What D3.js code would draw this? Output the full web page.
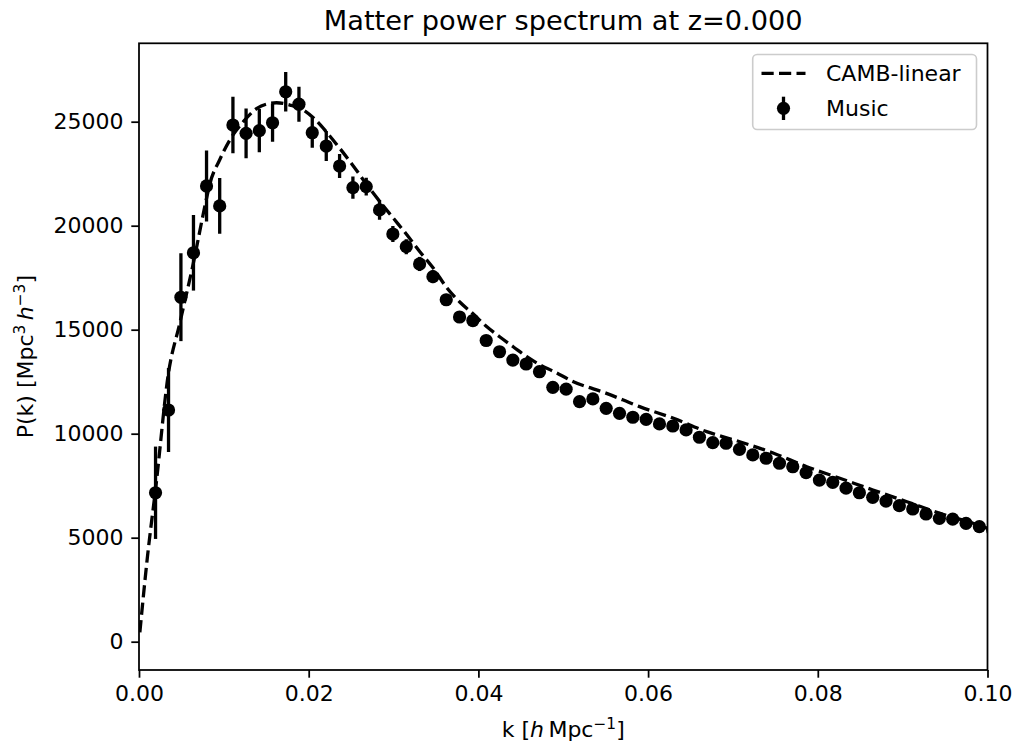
<!DOCTYPE html>
<html><head><meta charset="utf-8">
<script src="https://cdn.jsdelivr.net/npm/d3@7"></script>
<style>
body{margin:0;background:#fff}
svg{display:block}
text{font-family:"DejaVu Sans",sans-serif;fill:#000}
</style>
</head><body>
<svg id="chart" width="1020" height="748"></svg>
<script>
// ---- data ----
const titleText = "Matter power spectrum at z=0.000";
const xTicks = [0, 0.02, 0.04, 0.06, 0.08, 0.10];
const xTickLabels = ["0.00", "0.02", "0.04", "0.06", "0.08", "0.10"];
const yTicks = [0, 5000, 10000, 15000, 20000, 25000];
const yTickLabels = ["0", "5000", "10000", "15000", "20000", "25000"];
const seriesNames = ["CAMB-linear", "Music"];

const musicK = [0.00195,0.00348,0.00494,0.00642,0.00796,0.00951,0.01107,0.01262,0.01418,0.01574,
  0.01729,0.01885,0.02042,0.02207,0.02364,0.02521,0.02678,0.02835,0.02992,0.03150,
  0.03307,0.03464,0.03621,0.03778,0.03935,0.04092,0.04249,0.04406,0.04563,0.04720,
  0.04877,0.05034,0.05192,0.05349,0.05506,0.05663,0.05820,0.05977,0.06134,0.06291,
  0.06448,0.06605,0.06762,0.06919,0.07077,0.07234,0.07391,0.07548,0.07705,0.07862,
  0.08019,0.08176,0.08333,0.08490,0.08647,0.08804,0.08961,0.09119,0.09276,0.09433,
  0.09590,0.09747,0.09904,0.10061];
const musicP = [7160,11140,16560,18700,21910,20950,24840,24440,24570,24950,
  26440,25840,24470,23830,22870,21830,21880,20760,19600,18990,
  18160,17550,16440,15610,15440,14480,13940,13540,13350,12980,
  12230,12140,11540,11670,11220,10980,10790,10690,10470,10370,
  10180,9830,9570,9540,9250,8980,8820,8580,8410,8130,
  7770,7660,7380,7160,6940,6760,6540,6380,6140,5930,
  5890,5690,5530,5370];
const musicErr = [2220,2020,2110,1820,1710,1340,1360,1200,1040,920,
  950,840,720,720,580,530,430,480,380,360,
  340,310,280,260,240,220,210,200,190,180,
  170,160,150,150,140,140,130,130,120,120,
  110,110,100,100,100,90,90,90,80,80,
  80,70,70,70,70,60,60,60,60,60,
  55,55,50,50];

const cambK = [0.0001,0.001,0.002,0.00345,0.0048,0.0064,0.008,0.00837,0.0095,0.0107,
  0.0123,0.0139,0.0154,0.0162,0.0178,0.0194,0.0209,0.0221,0.0237,0.0253,0.0268,0.0284,
  0.0300,0.0315,0.0331,0.0347,0.0363,0.0378,0.0394,0.0410,0.0425,0.0441,0.0457,0.0473,
  0.0488,0.0512,0.0551,0.0590,0.0630,0.0669,0.0708,0.0748,0.0787,0.0826,0.0865,0.0905,
  0.0944,0.0983,0.1000];
const cambP = [450,4100,7500,12850,15300,18190,21390,22040,23160,24120,
  25000,25640,25880,25910,25800,25560,25050,24500,23700,22850,22000,21150,
  20350,19600,18750,17950,17000,16330,15750,15140,14660,14180,13700,13300,
  13010,12500,11940,11300,10740,10100,9615,9060,8413,7856,7293,6731,
  6173,5692,5452];

// ---- layout ----
const L = 139, R = 987.5, T = 43.3, B = 670;
const FS = 22;
const svg = d3.select("#chart");
const x = d3.scaleLinear().domain([0, 0.1]).range([L, R]);
const y = d3.scaleLinear().domain([-1361, 28769]).range([B, T]);

svg.append("defs").append("clipPath").attr("id", "plotclip")
  .append("rect").attr("x", L).attr("y", T).attr("width", R - L).attr("height", B - T);

const plot = svg.append("g").attr("clip-path", "url(#plotclip)");

// CAMB dashed line
const camb = cambK.map((k, i) => ({k, p: cambP[i]}));
plot.append("path")
  .datum(camb)
  .attr("fill", "none")
  .attr("stroke", "#000")
  .attr("stroke-width", 3.3)
  .attr("stroke-dasharray", "12.2 5.3")
  .attr("d", d3.line().x(d => x(d.k)).y(d => y(d.p)).curve(d3.curveMonotoneX));

// Music error bars + markers
const music = musicK.map((k, i) => ({k, p: musicP[i], e: musicErr[i]}));
plot.selectAll("line.err").data(music).join("line")
  .attr("class", "err")
  .attr("x1", d => x(d.k)).attr("x2", d => x(d.k))
  .attr("y1", d => y(d.p - d.e)).attr("y2", d => y(d.p + d.e))
  .attr("stroke", "#000").attr("stroke-width", 3.3);
plot.selectAll("circle.pt").data(music).join("circle")
  .attr("class", "pt")
  .attr("cx", d => x(d.k)).attr("cy", d => y(d.p))
  .attr("r", 6.6).attr("fill", "#000");

// axes
const xAxis = d3.axisBottom(x).tickValues(xTicks)
  .tickFormat((d, i) => xTickLabels[i]).tickSize(7.7).tickPadding(7.7).tickSizeOuter(0);
const gx = svg.append("g").attr("transform", `translate(0,${B})`).call(xAxis);
const yAxis = d3.axisLeft(y).tickValues(yTicks)
  .tickFormat((d, i) => yTickLabels[i]).tickSize(7.7).tickPadding(7.7).tickSizeOuter(0);
const gy = svg.append("g").attr("transform", `translate(${L},0)`).call(yAxis);
[gx, gy].forEach(g => {
  g.select(".domain").remove();
  g.selectAll(".tick line").attr("stroke", "#000").attr("stroke-width", 1.76);
  g.selectAll(".tick text").attr("font-size", FS).attr("font-family", "DejaVu Sans").attr("fill", "#000");
});

// frame (spines)
svg.append("rect").attr("x", L).attr("y", T).attr("width", R - L).attr("height", B - T)
  .attr("fill", "none").attr("stroke", "#000").attr("stroke-width", 1.76);

// title
svg.append("text").attr("x", (L + R) / 2).attr("y", 30).attr("text-anchor", "middle")
  .attr("font-size", 27.2).text(titleText);

// x label: k [h Mpc^-1]
const xl = svg.append("text").attr("x", (L + R) / 2).attr("y", 737).attr("text-anchor", "middle")
  .attr("font-size", FS);
xl.append("tspan").text("k [");
xl.append("tspan").attr("font-style", "italic").text("h");
xl.append("tspan").text("\u2009Mpc");
xl.append("tspan").attr("font-size", 15.4).attr("dy", -8).text("\u22121");
xl.append("tspan").attr("dy", 8).text("]");

// y label: P(k) [Mpc^3 h^-3]
const yl = svg.append("text").attr("transform", `translate(33,${(T + B) / 2}) rotate(-90)`)
  .attr("text-anchor", "middle").attr("font-size", FS);
yl.append("tspan").text("P(k) [Mpc");
yl.append("tspan").attr("font-size", 15.4).attr("dy", -8).text("3");
yl.append("tspan").attr("dy", 8).text("\u2009");
yl.append("tspan").attr("font-style", "italic").text("h");
yl.append("tspan").attr("font-size", 15.4).attr("dy", -8).text("\u22123");
yl.append("tspan").attr("dy", 8).text("]");

// legend
const lg = svg.append("g");
lg.append("rect").attr("x", 752.7).attr("y", 54.5).attr("width", 223.8).attr("height", 75)
  .attr("rx", 4.4).attr("fill", "#fff").attr("fill-opacity", 0.8)
  .attr("stroke", "#cccccc").attr("stroke-width", 1.6);
lg.append("line").attr("x1", 761.5).attr("x2", 805.5).attr("y1", 73.3).attr("y2", 73.3)
  .attr("stroke", "#000").attr("stroke-width", 3.3).attr("stroke-dasharray", "12.2 5.3");
lg.append("text").attr("x", 826).attr("y", 73.3 + 8).attr("font-size", FS).text(seriesNames[0]);
lg.append("line").attr("x1", 783.5).attr("x2", 783.5).attr("y1", 96.7).attr("y2", 120)
  .attr("stroke", "#000").attr("stroke-width", 3.3);
lg.append("circle").attr("cx", 783.5).attr("cy", 108.3).attr("r", 6.6).attr("fill", "#000");
lg.append("text").attr("x", 826).attr("y", 108.3 + 8).attr("font-size", FS).text(seriesNames[1]);
</script>
</body></html>
